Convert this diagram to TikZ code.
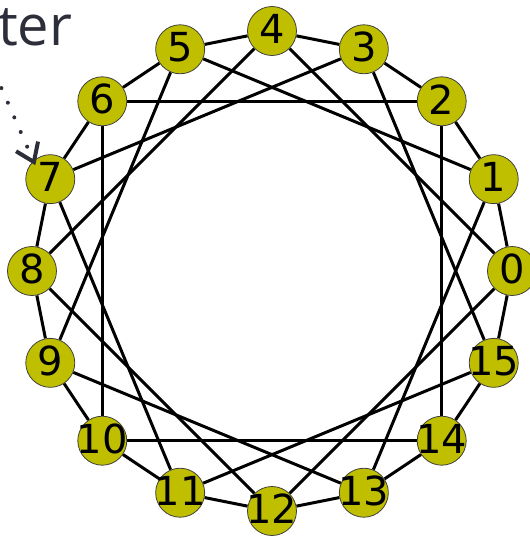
\documentclass[tikz,border=0pt]{standalone}
\usepackage{fontspec}
\newfontfamily\digitfont{DejaVu Sans}
\newfontfamily\captionfont{Open Sans}
\definecolor{nodeOlive}{RGB}{191,191,0}
\definecolor{inkSlate}{RGB}{44,46,58}
\usetikzlibrary{arrows.meta,backgrounds}

\begin{document}
\begin{tikzpicture}[x=1pt, y=1pt,
    vertex/.style={circle, fill=nodeOlive, draw=black!75, line width=0.8pt,
      minimum size=49pt, inner sep=0pt,
      label={[font=\digitfont\fontsize{40}{40}\selectfont, yshift=2pt]center:#1}},
    edge/.style={line width=3pt, black}]
  \useasboundingbox (-272,-265) rectangle (258,271);
  % Vertices on the ring
  \node[vertex=0]  (n0)  at (0:240)     {};
  \node[vertex=1]  (n1)  at (22.5:240)  {};
  \node[vertex=2]  (n2)  at (45:240)    {};
  \node[vertex=3]  (n3)  at (67.5:240)  {};
  \node[vertex=4]  (n4)  at (90:240)    {};
  \node[vertex=5]  (n5)  at (112.5:240) {};
  \node[vertex=6]  (n6)  at (135:240)   {};
  \node[vertex=7]  (n7)  at (157.5:240) {};
  \node[vertex=8]  (n8)  at (180:240)   {};
  \node[vertex=9]  (n9)  at (202.5:240) {};
  \node[vertex=10] (n10) at (225:240)   {};
  \node[vertex=11] (n11) at (247.5:240) {};
  \node[vertex=12] (n12) at (270:240)   {};
  \node[vertex=13] (n13) at (292.5:240) {};
  \node[vertex=14] (n14) at (315:240)   {};
  \node[vertex=15] (n15) at (337.5:240) {};
  % Edges: the ring and the skip-4 chords
  \begin{scope}[on background layer]
    \draw[edge] (n0) -- (n1) -- (n2) -- (n3) -- (n4) -- (n5) -- (n6) -- (n7)
      -- (n8) -- (n9) -- (n10) -- (n11) -- (n12) -- (n13) -- (n14) -- (n15) -- (n0);
    \draw[edge] (n0) -- (n4) -- (n8) -- (n12) -- (n0);
    \draw[edge] (n1) -- (n5) -- (n9) -- (n13) -- (n1);
    \draw[edge] (n2) -- (n6) -- (n10) -- (n14) -- (n2);
    \draw[edge] (n3) -- (n7) -- (n11) -- (n15) -- (n3);
  \end{scope}
  % Cut-off caption and dotted pointer
  \node[font=\captionfont\fontsize{56}{56}\selectfont, text=inkSlate,
        anchor=base west, inner sep=0pt] (caption) at (-274,225) {ter};
  \coordinate (from) at (-275,193);
  \draw[inkSlate, line width=4pt, line cap=round, dash pattern=on 0pt off 16pt,
        dash phase=5pt, -{Straight Barb[length=17pt,width=24pt]}]
    (from) -- ([shift={(-15,14)}]n7.center);
\end{tikzpicture}
\end{document}
